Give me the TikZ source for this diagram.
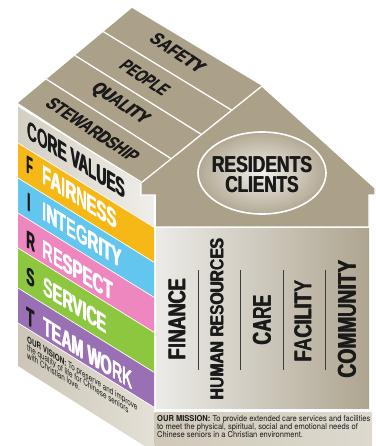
\documentclass[tikz,border=0pt]{standalone}
\usepackage{fontspec}
\setmainfont{TeX Gyre Heros}
\newfontfamily\labfont{Liberation Sans}
\newfontfamily\condm[FakeStretch=0.92]{TeX Gyre Heros}
\newfontfamily\condv[FakeStretch=0.70]{TeX Gyre Heros}
\definecolor{rooftan}{RGB}{171,161,137}
\definecolor{cyel}{RGB}{246,184,22}
\definecolor{cblue}{RGB}{98,198,238}
\definecolor{cpink}{RGB}{238,134,192}
\definecolor{cgreen}{RGB}{141,198,63}
\definecolor{cpurple}{RGB}{154,112,181}
\definecolor{inkc}{RGB}{26,26,26}
\definecolor{coreL}{RGB}{212,207,195}
\definecolor{coreR}{RGB}{240,238,233}
\definecolor{visL}{RGB}{204,197,182}
\definecolor{visR}{RGB}{228,224,215}
\definecolor{panL}{RGB}{236,235,232}
\definecolor{panR}{RGB}{174,165,144}
\definecolor{misL}{RGB}{208,201,186}
\definecolor{misR}{RGB}{222,217,207}
\definecolor{ellC}{RGB}{242,240,236}
\definecolor{ellO}{RGB}{178,168,147}
\newsavebox\mylabbox
\newcommand\labtext[1]{\labfont\bfseries\uppercase{\rlap{#1}\kern0.45pt#1}}
\makeatletter
% measure a label (outside the picture): name, text
\newcommand\premeasure[2]{%
  \sbox\mylabbox{\labtext{#2}}%
  \expandafter\xdef\csname mylw@#1\endcsname{\strip@pt\wd\mylabbox}%
  \expandafter\xdef\csname mylh@#1\endcsname{\strip@pt\ht\mylabbox}}
% #1 extra node options, #2 name, #3 position, #4 target width, #5 target height, #6 text
\newcommand\fitlab[6]{%
  \pgfmathsetmacro\sxx{#4/\csname mylw@#2\endcsname}%
  \pgfmathsetmacro\syy{#5/\csname mylh@#2\endcsname}%
  \node[inner sep=0pt, #1, xscale=\sxx, yscale=\syy, transform shape] (#2) at #3 {\labtext{#6}};}
\makeatother
\newcommand\lface[5][west]{%
  \begin{scope}[shift={(#3,#4)}, cm={1,-0.62,0,1,(0,0)}]
    \node[transform shape, anchor=#1, inner sep=0pt] (#2) at (0,0) {#5};
  \end{scope}}
% shear-face label: color, name, x, y, width, height, text
\newcommand\lflab[7]{%
  \begin{scope}[shift={(#3,#4)}, cm={1,-0.62,0,1,(0,0)}]
    \fitlab{anchor=west, text=#1}{#2}{(0,0)}{#5}{#6}{#7}
  \end{scope}}
% roof label: name, x, y, width, height, text
\newcommand\rflab[6]{%
  \begin{scope}[shift={(#2,#3)}, cm={0.835,-0.550,0.768,0.640,(0,0)}]
    \fitlab{text=inkc}{#1}{(0,0)}{#4}{#5}{#6}
  \end{scope}}
\begin{document}
\premeasure{res}{RESIDENTS}\premeasure{cli}{CLIENTS}%
\premeasure{fin}{FINANCE}\premeasure{hum}{HUMAN RESOURCES}\premeasure{car}{CARE}%
\premeasure{fac}{FACILITY}\premeasure{com}{COMMUNITY}%
\premeasure{stw}{STEWARDSHIP}\premeasure{qua}{QUALITY}\premeasure{peo}{PEOPLE}\premeasure{saf}{SAFETY}%
\premeasure{core}{CORE VALUES}%
\premeasure{lf}{F}\premeasure{wf}{FAIRNESS}\premeasure{li}{I}\premeasure{wi}{INTEGRITY}%
\premeasure{lr}{R}\premeasure{wr}{RESPECT}\premeasure{ls}{S}\premeasure{ws}{SERVICE}%
\premeasure{lt}{T}\premeasure{wt}{TEAM WORK}%
\begin{tikzpicture}[x=1pt,y=-1pt]
\useasboundingbox (0,0) rectangle (375,446);
\clip (0,0) rectangle (375,446);
% ---- left face bands
\shade[left color=coreL, right color=coreR] (18,106) -- (154,190.3) -- (154,227.3) -- (18,143) -- cycle;
\fill[cyel]    (18,143) -- (154,227.3) -- (154,262.3) -- (18,178) -- cycle;
\fill[cblue]   (18,178) -- (154,262.3) -- (154,297.3) -- (18,213) -- cycle;
\fill[cpink]   (18,213) -- (154,297.3) -- (154,332.3) -- (18,248) -- cycle;
\fill[cgreen]  (18,248) -- (154,332.3) -- (154,372.3) -- (18,288) -- cycle;
\fill[cpurple] (18,288) -- (154,372.3) -- (154,407.3) -- (18,323) -- cycle;
\shade[left color=visL, right color=visR] (18,323) -- (154,407.3) -- (154,452) -- (18,366) -- cycle;
\foreach \yy in {143,178,213,248,288,323}
  \draw[white, line width=0.7pt] (18,\yy) -- (154,{\yy+84.3});
% ---- roof top strips
\fill[rooftan] (18,103) -- (132,8) -- (262,86) -- (141,183) -- cycle;
\foreach \k in {1,2,3}
  \draw[white, line width=1.3pt] ({18+28.5*\k},{103-23.75*\k}) -- ({141+30.25*\k},{183-24.25*\k});
\draw[white, line width=1.3pt] (16,104.5) -- (141,182);
% ---- front gable
\fill[rooftan, draw=white, line width=1.3pt] (141,183) -- (262,86) -- (375,188) -- (375,195) -- (369,195) -- (369,227) -- (155.3,227) -- (155.3,195) -- (141,195) -- cycle;
% ---- front lower panel
\shade[left color=panL, right color=panR] (156,228.8) rectangle (369,408.5);
% ---- mission box
\shade[left color=misL, right color=misR] (154.5,412) rectangle (372,450);
% ---- ellipse
\shadedraw[inner color=ellC, outer color=ellO, draw=white, line width=1.6pt] (262,173) ellipse [x radius=64pt, y radius=41pt];
\fitlab{text=inkc}{res}{(262,165)}{101}{16}{RESIDENTS}
\fitlab{text=inkc}{cli}{(262,185)}{74}{16}{CLIENTS}
% ---- front labels
\fitlab{rotate=90, text=inkc}{fin}{(177,319)}{82}{17}{FINANCE}
\fitlab{rotate=90, text=inkc}{hum}{(217,319)}{162}{13}{HUMAN RESOURCES}
\fitlab{rotate=90, text=inkc}{car}{(262,320)}{50}{18}{CARE}
\fitlab{rotate=90, text=inkc}{fac}{(303,321)}{82}{17}{FACILITY}
\fitlab{rotate=90, text=inkc}{com}{(347,319)}{118}{18}{COMMUNITY}
\foreach \xx in {198,240,283,325}
  \draw[inkc!85, line width=0.7pt] (\xx,270) -- (\xx,370);
% ---- roof labels
\rflab{stw}{93}{130}{105}{13}{STEWARDSHIP}
\rflab{qua}{120}{104}{63}{13}{QUALITY}
\rflab{peo}{145}{78}{53}{13}{PEOPLE}
\rflab{saf}{178}{53}{60}{13}{SAFETY}
% ---- left face labels
\lflab{inkc}{core}{27}{129}{98}{18}{CORE VALUES}
\lflab{inkc}{lf}{26}{164}{7}{17}{F}
\lflab{white}{wf}{42}{173.9}{75}{18}{FAIRNESS}
\lflab{inkc}{li}{27}{201}{4}{17}{I}
\lflab{white}{wi}{42}{210.3}{80}{18}{INTEGRITY}
\lflab{inkc}{lr}{26}{238.5}{9}{17}{R}
\lflab{white}{wr}{42}{248.4}{71}{18}{RESPECT}
\lflab{inkc}{ls}{26}{275}{8.5}{17}{S}
\lflab{white}{ws}{43}{285.5}{64}{18}{SERVICE}
\lflab{inkc}{lt}{26}{315}{9}{17}{T}
\lflab{white}{wt}{43}{325.5}{90}{18}{TEAM WORK}
% ---- vision text
\lface[base west]{v1}{27}{342}{\color{inkc}\condv\fontsize{9}{9}\selectfont\textbf{\uppercase{our vision:}} To preserve and improve}
\lface[base west]{v2}{27}{350}{\color{inkc}\condv\fontsize{9}{9}\selectfont the quality of life for Chinese seniors}
\lface[base west]{v3}{27}{358}{\color{inkc}\condv\fontsize{9}{9}\selectfont with Christian love.}
% ---- mission text
\node[anchor=base west, inner sep=0pt, text=inkc] (m1) at (157,421.5) {\condm\fontsize{8.2}{8}\selectfont\textbf{\uppercase{our mission:}} To provide extended care services and facilities};
\node[anchor=base west, inner sep=0pt, text=inkc] (m2) at (157,429.3) {\condm\fontsize{8.2}{8}\selectfont to meet the physical, spiritual, social and emotional needs of};
\node[anchor=base west, inner sep=0pt, text=inkc] (m3) at (157,437) {\condm\fontsize{8.2}{8}\selectfont Chinese seniors in a Christian environment.};
\end{tikzpicture}
\end{document}
